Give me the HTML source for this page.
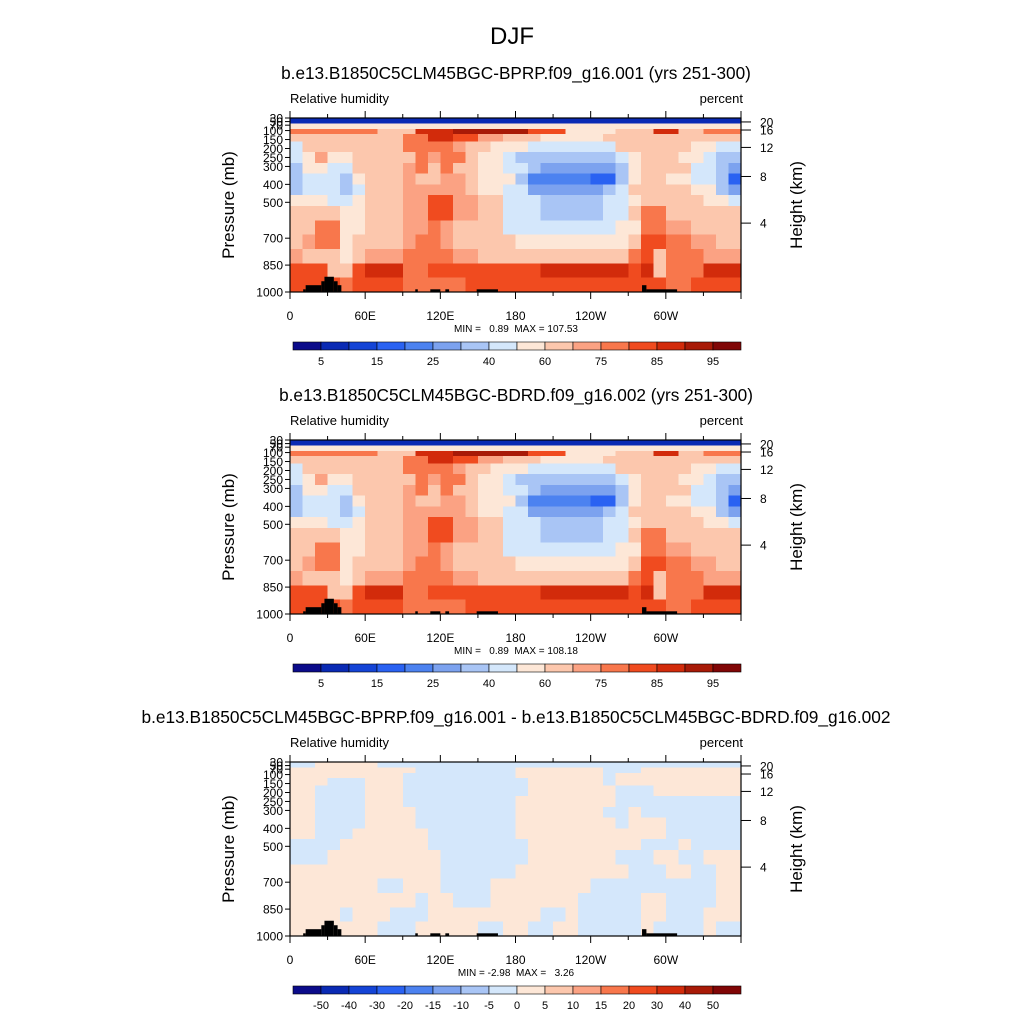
<!DOCTYPE html>
<html><head><meta charset="utf-8"><style>
body{margin:0;background:#fff}
svg{display:block;font-family:"Liberation Sans",sans-serif}
</style></head><body>
<svg id="fig" width="1024" height="1024" viewBox="0 0 1024 1024">
<rect width="1024" height="1024" fill="#fff"/>
<text x="512" y="44" font-size="24" text-anchor="middle">DJF</text>
</svg>
<script>
// ===== data =====
const presEdges = [30,60,90,120,160,220,280,340,400,460,520,600,680,760,840,920,1000];
const lonCenters = [5,15,25,35,45,55,65,75,85,95,105,115,125,135,145,155,165,175,185,195,205,215,225,235,245,255,265,275,285,295,305,315,325,335,345,355];
const rhLevels = [5,10,15,20,25,30,40,50,60,70,75,80,85,90,95];
const rhLabels = ["5","15","25","40","60","75","85","95"];
const diffLevels = [-50,-40,-30,-20,-15,-10,-5,0,5,10,15,20,30,40,50];
const diffLabels = ["-50","-40","-30","-20","-15","-10","-5","0","5","10","15","20","30","40","50"];
const palette = ["#0b0b8a","#0a2ab4","#1444d6","#2a62f2","#4c82f0","#7ca2ef","#a9c5f5","#d4e7fb","#fde7d7","#fcc7ad","#fba283","#f8774c","#f04b1f","#d22b0b","#a81a07","#800606"];
const xTickLons = [0,60,120,180,240,300];
const xTickLabels = ["0","60E","120E","180","120W","60W"];
const pTicks = [30,50,70,100,150,200,250,300,400,500,700,850,1000];
const hTicks = [4,8,12,16,20];
const hTickPres = [616,356,194,97,52];
const terrain = [[10.5,12.5,985],[12.5,25,962],[25,27.5,940],[27.5,35,915],[35,38,940],[38,41,962],[100,102,985],[112,120,985],[124,127,985],[149,166,985],[281,284.5,962],[284.5,309,985]];
const rhGrid1 = [
[8,8,8,8,8,8,8,8,8,8,8,8,8,8,8,8,8,8,8,8,8,8,8,8,8,8,8,8,8,8,8,8,8,8,8,8],
[55,55,55,55,55,55,55,55,55,55,55,55,55,55,55,55,55,55,55,55,55,55,55,55,55,55,55,55,55,55,55,55,55,55,55,55],
[77,77,77,77,77,77,77,65,65,65,87,87,87,92,92,92,92,92,92,82,82,82,55,55,55,55,65,65,65,87,87,65,65,77,77,77],
[65,60,60,60,60,60,60,65,65,77,77,87,87,82,82,72,72,60,60,60,55,55,55,55,55,60,60,60,65,65,60,60,60,60,60,60],
[45,60,65,60,60,60,60,65,65,77,77,77,77,72,60,60,55,55,55,45,45,45,45,45,45,45,60,60,65,65,60,60,55,55,45,45],
[40,55,72,55,55,60,60,60,60,65,77,72,77,77,65,55,55,45,38,35,35,35,35,35,35,38,45,55,65,65,65,55,55,45,38,35],
[35,50,50,45,45,60,60,60,60,72,77,65,77,65,65,50,50,40,40,30,25,25,25,25,25,25,35,50,62,62,62,60,45,45,30,25],
[30,45,45,45,30,50,60,60,60,72,65,65,72,72,62,50,50,50,35,22,22,22,22,22,18,18,35,55,62,62,55,55,45,45,30,18],
[35,45,45,45,30,45,60,60,60,72,72,72,72,72,62,55,55,40,40,25,25,25,25,25,25,30,45,60,65,65,60,60,50,50,35,25],
[55,55,55,45,45,50,62,62,62,72,72,82,82,72,72,60,60,45,45,45,30,30,30,30,30,40,40,55,65,65,62,62,62,50,50,45],
[62,62,62,62,50,55,62,62,62,72,72,82,82,72,72,60,60,45,45,45,35,35,35,35,35,45,45,60,77,77,65,65,60,60,60,65],
[62,65,77,77,50,55,65,65,65,72,72,77,72,65,65,60,60,45,45,45,40,40,40,40,45,45,55,55,77,77,72,72,62,62,62,62],
[62,72,77,77,50,60,65,65,65,72,77,77,72,65,65,60,60,60,50,50,50,50,50,50,55,55,55,62,82,82,77,77,72,72,65,65],
[72,65,65,65,55,60,72,72,72,77,77,77,77,72,72,65,65,65,65,62,62,62,62,62,65,65,65,77,82,62,77,77,77,72,72,72],
[82,82,82,65,60,82,87,87,87,77,77,82,82,82,82,82,82,82,82,82,87,87,87,87,87,87,87,82,87,65,77,77,77,87,87,87],
[82,82,82,82,77,82,82,82,82,77,77,77,77,77,82,82,82,82,82,82,82,82,82,82,82,82,82,82,82,82,77,77,82,82,82,82]
];
const rhGrid2 = rhGrid1.map(r => r.slice());
const diffGrid = [
[-2,-2,2,2,2,2,2,-2,-2,-2,-2,-2,-2,-2,-2,-2,-2,-2,-2,-2,-2,-2,-2,-2,-2,-2,-2,-2,-2,-2,-2,-2,-2,-2,-2,-2],
[2,2,2,2,2,2,2,2,2,2,-2,-2,-2,-2,-2,-2,-2,-2,2,2,2,2,2,2,2,-2,-2,-2,2,2,2,2,2,2,2,2],
[2,2,2,2,2,2,2,2,2,-2,-2,-2,-2,-2,-2,-2,-2,-2,2,2,2,2,2,2,2,-2,2,2,2,2,2,2,2,2,2,2],
[2,2,2,-2,-2,-2,2,2,2,-2,-2,-2,-2,-2,-2,-2,-2,-2,-2,2,2,2,2,2,2,-2,2,2,2,2,2,2,2,2,2,2],
[2,2,-2,-2,-2,-2,2,2,2,-2,-2,-2,-2,-2,-2,-2,-2,-2,-2,2,2,2,2,2,2,2,-2,-2,-2,2,2,2,2,2,2,2],
[2,2,-2,-2,-2,-2,2,2,2,-2,-2,-2,-2,-2,-2,-2,-2,-2,2,2,2,2,2,2,2,2,-2,-2,-2,-2,-2,-2,-2,-2,-2,-2],
[2,2,-2,-2,-2,-2,2,2,2,2,-2,-2,-2,-2,-2,-2,-2,-2,2,2,2,2,2,2,2,-2,-2,2,-2,-2,-2,-2,-2,-2,-2,-2],
[2,2,-2,-2,-2,-2,2,2,2,2,-2,-2,-2,-2,-2,-2,-2,-2,2,2,2,2,2,2,2,2,-2,2,2,2,-2,-2,-2,-2,-2,-2],
[2,2,-2,-2,-2,2,2,2,2,2,2,-2,-2,-2,-2,-2,-2,-2,2,2,2,2,2,2,2,2,2,2,2,2,-2,-2,-2,-2,-2,-2],
[-2,-2,-2,-2,2,2,2,2,2,2,2,-2,-2,-2,-2,-2,-2,-2,-2,2,2,2,2,2,2,2,2,2,-2,-2,-2,2,-2,-2,-2,-2],
[-2,-2,-2,2,2,2,2,2,2,2,2,2,-2,-2,-2,-2,-2,-2,-2,2,2,2,2,2,2,2,-2,-2,-2,2,2,-2,-2,2,2,2],
[2,2,2,2,2,2,2,2,2,2,2,2,-2,-2,-2,-2,-2,-2,2,2,2,2,2,2,2,2,2,-2,-2,-2,2,2,-2,-2,2,2],
[2,2,2,2,2,2,2,-2,-2,2,2,2,-2,-2,-2,-2,2,2,2,2,2,2,2,2,-2,-2,-2,-2,-2,-2,-2,-2,-2,-2,2,2],
[2,2,2,2,2,2,2,2,2,2,-2,2,2,-2,-2,-2,2,2,2,2,2,2,2,-2,-2,-2,-2,-2,2,2,-2,-2,-2,-2,2,2],
[2,2,2,2,-2,2,2,2,-2,-2,-2,2,2,2,2,2,2,2,2,2,-2,-2,2,-2,-2,-2,-2,-2,2,2,-2,-2,-2,2,2,2],
[2,2,2,2,2,2,2,-2,-2,-2,2,2,2,2,2,-2,-2,2,2,-2,-2,2,2,-2,-2,-2,-2,-2,2,-2,-2,-2,-2,2,-2,-2]
];

// ===== drawing =====
const NS = "http://www.w3.org/2000/svg";
const svg = document.getElementById("fig");
const X0 = 290, X1 = 741, PH = 174;
function xL(lon){ return X0 + lon/360*(X1-X0); }
function yP(p, top){ return top + (p-30)/970*PH; }
function mk(tag, attrs, parent){
  const e = document.createElementNS(NS, tag);
  for (const k in attrs) e.setAttribute(k, attrs[k]);
  (parent||svg).appendChild(e); return e;
}
function txt(x,y,s,size,anchor,parent){
  const t = mk("text",{x:x,y:y,"font-size":size,"text-anchor":anchor||"start"},parent);
  t.textContent = s; return t;
}
function colorFor(v, levels){
  let i = 0; while (i < levels.length && v >= levels[i]) i++;
  return palette[i];
}
function panel(top, grid, levels, subtitle, subY, subSize, minmax, labels, labelEvery){
  const g = mk("g",{});
  
  
  const st = txt(516, subY, subtitle, subSize, "middle", g);
  
  
  const l1 = txt(290, top-15, "Relative humidity", 13, "start", g);
  
  
  const l2 = txt(743, top-15, "percent", 13, "end", g);
  
  
  const cg = mk("g",{"shape-rendering":"crispEdges"}, g);
  
  
  for (let r = 0; r < grid.length; r++){
    const ya = yP(presEdges[r], top), yb = yP(presEdges[r+1], top);
    for (let c = 0; c < lonCenters.length; c++){
      const xa = xL(lonCenters[c]-5), xb = xL(lonCenters[c]+5);
      const rc = mk("rect",{x:xa.toFixed(2),y:ya.toFixed(2),width:(xb-xa+0.6).toFixed(2),height:(yb-ya+0.6).toFixed(2),fill:colorFor(grid[r][c], levels)}, cg);
      
      
    }
  }
  terrain.forEach(t => {
    const ya = yP(t[2], top);
    const tr = mk("rect",{x:xL(t[0]),y:ya,width:xL(t[1])-xL(t[0]),height:top+PH-ya,fill:"#000"}, g);
    
    
  });
  const fr = mk("rect",{x:X0,y:top,width:X1-X0,height:PH,fill:"none",stroke:"#000","stroke-width":1.2}, g);
  
  
  for (let lon = 0; lon <= 360; lon += 30){
    const x = xL(lon), major = lon % 60 === 0;
    mk("line",{x1:x,x2:x,y1:top+PH,y2:top+PH+(major?7:4),stroke:"#000"}, g);
    mk("line",{x1:x,x2:x,y1:top,y2:top-(major?7:4),stroke:"#000"}, g);
  }
  xTickLons.forEach((lon,i) => {
    const t = txt(xL(lon), top+PH+28, xTickLabels[i], 12, "middle", g);
    
    
  });
  pTicks.forEach(p => {
    const y = yP(p, top);
    mk("line",{x1:X0,x2:X0-5,y1:y,y2:y,stroke:"#000"}, g);
    const t = txt(283, y+4.5, String(p), 12, "end", g);
    
    
  });
  hTicks.forEach((h,i) => {
    const y = yP(hTickPres[i], top);
    mk("line",{x1:X1,x2:X1+10,y1:y,y2:y,stroke:"#000"}, g);
    const t = txt(760, y+4.5, String(h), 12, "start", g);
    
    
  });
  const ya = txt(0,0,"Pressure (mb)",17,"middle",g);
  ya.setAttribute("transform",`translate(234,${top+PH/2}) rotate(-90)`);
  
  
  const yb = txt(0,0,"Height (km)",17,"middle",g);
  yb.setAttribute("transform",`translate(802,${top+PH/2}) rotate(-90)`);
  
  
  const mm = txt(516, top+PH+40, minmax, 10, "middle", g);
  mm.setAttribute("style","white-space:pre");
  
  
  const cbY = top+PH+50, cbX = 293, cbW = 448, n = palette.length, bw = cbW/n;
  const cb = mk("g",{}, g);
  
  
  palette.forEach((col,i) => {
    const r = mk("rect",{x:cbX+i*bw,y:cbY,width:bw,height:8,fill:col,stroke:"#000","stroke-width":0.6}, cb);
    
    
  });
  labels.forEach((s,i) => {
    const b = labelEvery === 2 ? 1 + 2*i : 1 + i;
    const t = txt(cbX + b*bw, cbY+23, s, 11, "middle", cb);
    
    
  });
}
panel(118, rhGrid1, rhLevels, "b.e13.B1850C5CLM45BGC-BPRP.f09_g16.001 (yrs 251-300)", 79, 17.2, "MIN =   0.89  MAX = 107.53", rhLabels, 2);
panel(440, rhGrid2, rhLevels, "b.e13.B1850C5CLM45BGC-BDRD.f09_g16.002 (yrs 251-300)", 401, 17.2, "MIN =   0.89  MAX = 108.18", rhLabels, 2);
panel(762, diffGrid, diffLevels, "b.e13.B1850C5CLM45BGC-BPRP.f09_g16.001 - b.e13.B1850C5CLM45BGC-BDRD.f09_g16.002", 723, 17.3, "MIN = -2.98  MAX =   3.26", diffLabels, 1);
</script>
</body></html>
